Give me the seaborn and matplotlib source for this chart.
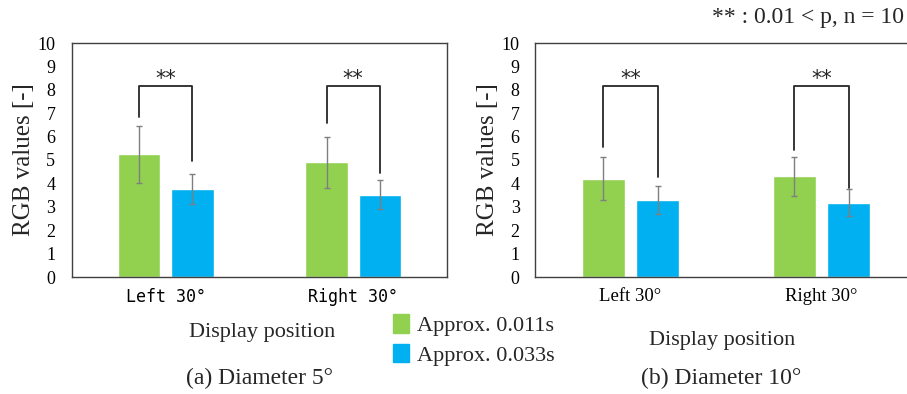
import numpy as np
import pandas as pd
import matplotlib
matplotlib.use("Agg")
import matplotlib.pyplot as plt
import seaborn as sns

# data
positions = ["Left 30°", "Right 30°"]
durations = ["Approx. 0.011s", "Approx. 0.033s"]
colors = ["#92D050", "#00B0F0"]

# (a) Diameter 5°
mean_a_011 = [5.25, 4.91]
sd_a_011 = [1.22, 1.09]
mean_a_033 = [3.75, 3.52]
sd_a_033 = [0.65, 0.63]
bracket_a = [(6.84, 4.96), (6.57, 4.43)]

# (b) Diameter 10°
mean_b_011 = [4.20, 4.30]
sd_b_011 = [0.92, 0.83]
mean_b_033 = [3.31, 3.18]
sd_b_033 = [0.60, 0.59]
bracket_b = [(5.56, 4.27), (5.41, 3.80)]

bracket_top = 8.17
serif = "Liberation Serif"

sns.set_theme(style="white")
plt.rcParams["font.family"] = [serif, "DejaVu Sans"]

fig = plt.figure(figsize=(9.07, 3.94), dpi=100)
ax1 = fig.add_axes([72 / 907, 117 / 394, 375 / 907, 234 / 394])
ax2 = fig.add_axes([535 / 907, 117 / 394, 382 / 907, 234 / 394])


def draw_panel(ax, m1, s1, m2, s2, brackets, tick_font, tick_size, ypad):
    df = pd.DataFrame({
        "position": positions * 2,
        "duration": [durations[0]] * 2 + [durations[1]] * 2,
        "value": m1 + m2,
    })
    sns.barplot(data=df, x="position", y="value", hue="duration",
                hue_order=durations, palette=colors, order=positions,
                width=0.57, gap=0.2, errorbar=None, legend=False,
                saturation=1, ax=ax)
    # error bars at bar centres
    errs = s1 + s2
    for p, e in zip(ax.patches, errs):
        xc = p.get_x() + p.get_width() / 2
        ax.errorbar(xc, p.get_height(), yerr=e, color="#7f7f7f",
                    lw=1.0, capsize=2.5, capthick=1.0, zorder=3)
    # significance brackets
    n = len(positions)
    for i in range(n):
        pg, pb = ax.patches[i], ax.patches[i + n]
        xg = pg.get_x() + pg.get_width() / 2
        xb = pb.get_x() + pb.get_width() / 2
        yg, yb = brackets[i]
        ax.plot([xg, xg, xb, xb], [yg, bracket_top, bracket_top, yb],
                color="#262626", lw=1.3, zorder=4)
        ax.text((xg + xb) / 2, bracket_top + 0.3, "**", ha="center",
                va="center", fontsize=15, family="DejaVu Sans",
                color="#262626")
    ax.set_xlim(-0.5, 1.5)
    ax.set_ylim(0, 10)
    ax.set_yticks(range(0, 11))
    ax.set_yticklabels([str(v) for v in range(0, 11)], fontsize=13,
                       family=serif)
    ax.set_xticks(range(n))
    ax.set_xticklabels(positions, fontsize=tick_size, family=tick_font)
    ax.tick_params(axis="y", length=0, pad=ypad, colors="black")
    ax.tick_params(axis="x", length=0, pad=8, colors="black")
    ax.set_xlabel("")
    ax.set_ylabel("RGB values [-]", fontsize=18, family=serif, labelpad=2)
    for sp in ax.spines.values():
        sp.set_visible(True)
        sp.set_color("#404040")
        sp.set_linewidth(1.0)


draw_panel(ax1, mean_a_011, sd_a_011, mean_a_033, sd_a_033, bracket_a,
           "DejaVu Sans Mono", 12, 12)
draw_panel(ax2, mean_b_011, sd_b_011, mean_b_033, sd_b_033, bracket_b,
           serif, 13.5, 11)

# axis titles and captions
fig.text(262 / 907, 1 - 333 / 394, "Display position", ha="center",
         va="center", fontsize=16, family=serif)
fig.text(259 / 907, 1 - 378 / 394, "(a) Diameter 5°", ha="center",
         va="center", fontsize=17, family=serif)
fig.text(722 / 907, 1 - 340 / 394, "Display position", ha="center",
         va="center", fontsize=16, family=serif)
fig.text(721 / 907, 1 - 378 / 394, "(b) Diameter 10°", ha="center",
         va="center", fontsize=17, family=serif)
fig.text(904 / 907, 1 - 18 / 394, "** : 0.01 < p, n = 10", ha="right",
         va="center", fontsize=17, family=serif)

# legend between the panels
handles = [plt.Rectangle((0, 0), 1, 1, color=c) for c in colors]
fig.legend(handles, durations, loc="center left",
           bbox_to_anchor=(393 / 907, 1 - 340 / 394), frameon=False,
           prop={"family": serif, "size": 16}, handlelength=0.7,
           handleheight=0.9, handletextpad=0.4, labelspacing=0.35,
           borderpad=0, borderaxespad=0)

fig.savefig("out.png", dpi=100)
